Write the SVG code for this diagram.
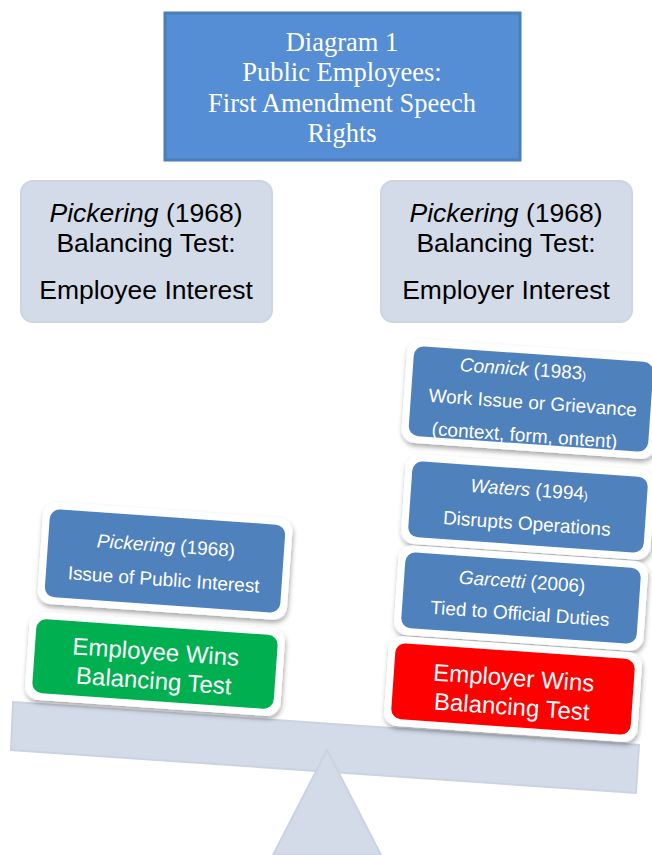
<svg xmlns="http://www.w3.org/2000/svg" width="652" height="855" viewBox="0 0 652 855">
<defs>
<filter id="sh" x="-20%" y="-20%" width="140%" height="150%">
<feDropShadow dx="1" dy="3" stdDeviation="2.5" flood-color="#000" flood-opacity="0.35"/>
</filter>
</defs>
<style>
.serif{font-family:"Liberation Serif","Times New Roman",serif;fill:#fff;font-size:26.5px;text-anchor:middle}
.hdr{font-family:"Liberation Sans",Arial,sans-serif;fill:#000;font-size:26.5px;text-anchor:middle}
.lbl{font-family:"Liberation Sans",Arial,sans-serif;fill:#fff;font-size:19px;text-anchor:middle}
.big{font-family:"Liberation Sans",Arial,sans-serif;fill:#fff;font-size:24px;text-anchor:middle}
.frame{fill:#fff;filter:url(#sh)}
.blue{fill:#4f81bd}
.green{fill:#00b050}
.red{fill:#ff0000}
.light{fill:#d3dbe9;stroke:#cdd5e4;stroke-width:2}
</style>

<g id="title">
<rect x="165" y="13" width="355" height="147" fill="#558ed5" stroke="#4a7ebb" stroke-width="3"/>
<text class="serif" x="342" y="51">Diagram 1</text>
<text class="serif" x="342" y="81">Public Employees:</text>
<text class="serif" x="342" y="112">First Amendment Speech</text>
<text class="serif" x="342" y="142">Rights</text>
</g>

<g id="employee-interest">
<rect class="light" x="21" y="181" width="251" height="141" rx="12"/>
<text class="hdr" x="146" y="222"><tspan font-style="italic">Pickering</tspan> (1968)</text>
<text class="hdr" x="146" y="252">Balancing Test:</text>
<text class="hdr" x="146" y="299">Employee Interest</text>
</g>

<g id="employer-interest">
<rect class="light" x="381" y="181" width="251" height="141" rx="12"/>
<text class="hdr" x="506" y="222"><tspan font-style="italic">Pickering</tspan> (1968)</text>
<text class="hdr" x="506" y="252">Balancing Test:</text>
<text class="hdr" x="506" y="299">Employer Interest</text>
</g>

<g id="seesaw">
<polygon points="13,702 639,745 636,793 11,750" fill="#d3dbe9" stroke="#cbd3e2" stroke-width="2"/>
<polygon points="327,750 381,855 273,855" fill="#d3dbe9" stroke="#cbd3e2" stroke-width="2"/>
</g>

<g id="pickering-public" transform="translate(165,561) rotate(4)">
<rect class="frame" x="-125" y="-51" width="250" height="102" rx="14"/>
<rect class="blue" x="-118" y="-44" width="236" height="88" rx="10"/>
<text class="lbl" x="0" y="-9"><tspan font-style="italic">Pickering</tspan> (1968)</text>
<text class="lbl" x="0" y="25">Issue of Public Interest</text>
</g>

<g id="employee-wins" transform="translate(155,664) rotate(4)">
<rect class="frame" x="-128" y="-44" width="256" height="88" rx="14"/>
<rect class="green" x="-121" y="-37" width="242" height="74" rx="10"/>
<text class="big" x="0" y="-4">Employee Wins</text>
<text class="big" x="0" y="25">Balancing Test</text>
</g>

<g id="connick" transform="translate(531,399) rotate(4)">
<rect class="frame" x="-127" y="-52" width="254" height="104" rx="14"/>
<rect class="blue" x="-120" y="-45" width="240" height="90" rx="10"/>
<text class="lbl" x="-10" y="-23"><tspan font-style="italic">Connick</tspan> (1983<tspan font-size="12">)</tspan></text>
<text class="lbl" x="2" y="10">Work Issue or Grievance</text>
<text class="lbl" x="-4" y="43">(context, form, ontent)</text>
</g>

<g id="waters" transform="translate(528,507) rotate(4)">
<rect class="frame" x="-125" y="-45" width="250" height="90" rx="14"/>
<rect class="blue" x="-118" y="-38" width="236" height="76" rx="10"/>
<text class="lbl" x="0" y="-11"><tspan font-style="italic">Waters</tspan> (1994<tspan font-size="12">)</tspan></text>
<text class="lbl" x="0" y="23">Disrupts Operations</text>
</g>

<g id="garcetti" transform="translate(521,598) rotate(4)">
<rect class="frame" x="-125" y="-45" width="250" height="90" rx="14"/>
<rect class="blue" x="-118" y="-38" width="236" height="76" rx="10"/>
<text class="lbl" x="0" y="-10"><tspan font-style="italic">Garcetti</tspan> (2006)</text>
<text class="lbl" x="0" y="22">Tied to Official Duties</text>
</g>

<g id="employer-wins" transform="translate(513,689) rotate(4)">
<rect class="frame" x="-127" y="-45" width="254" height="90" rx="14"/>
<rect class="red" x="-120" y="-38" width="240" height="76" rx="10"/>
<text class="big" x="0" y="-3">Employer Wins</text>
<text class="big" x="0" y="26">Balancing Test</text>
</g>

<g id="connectors"/>
</svg>
